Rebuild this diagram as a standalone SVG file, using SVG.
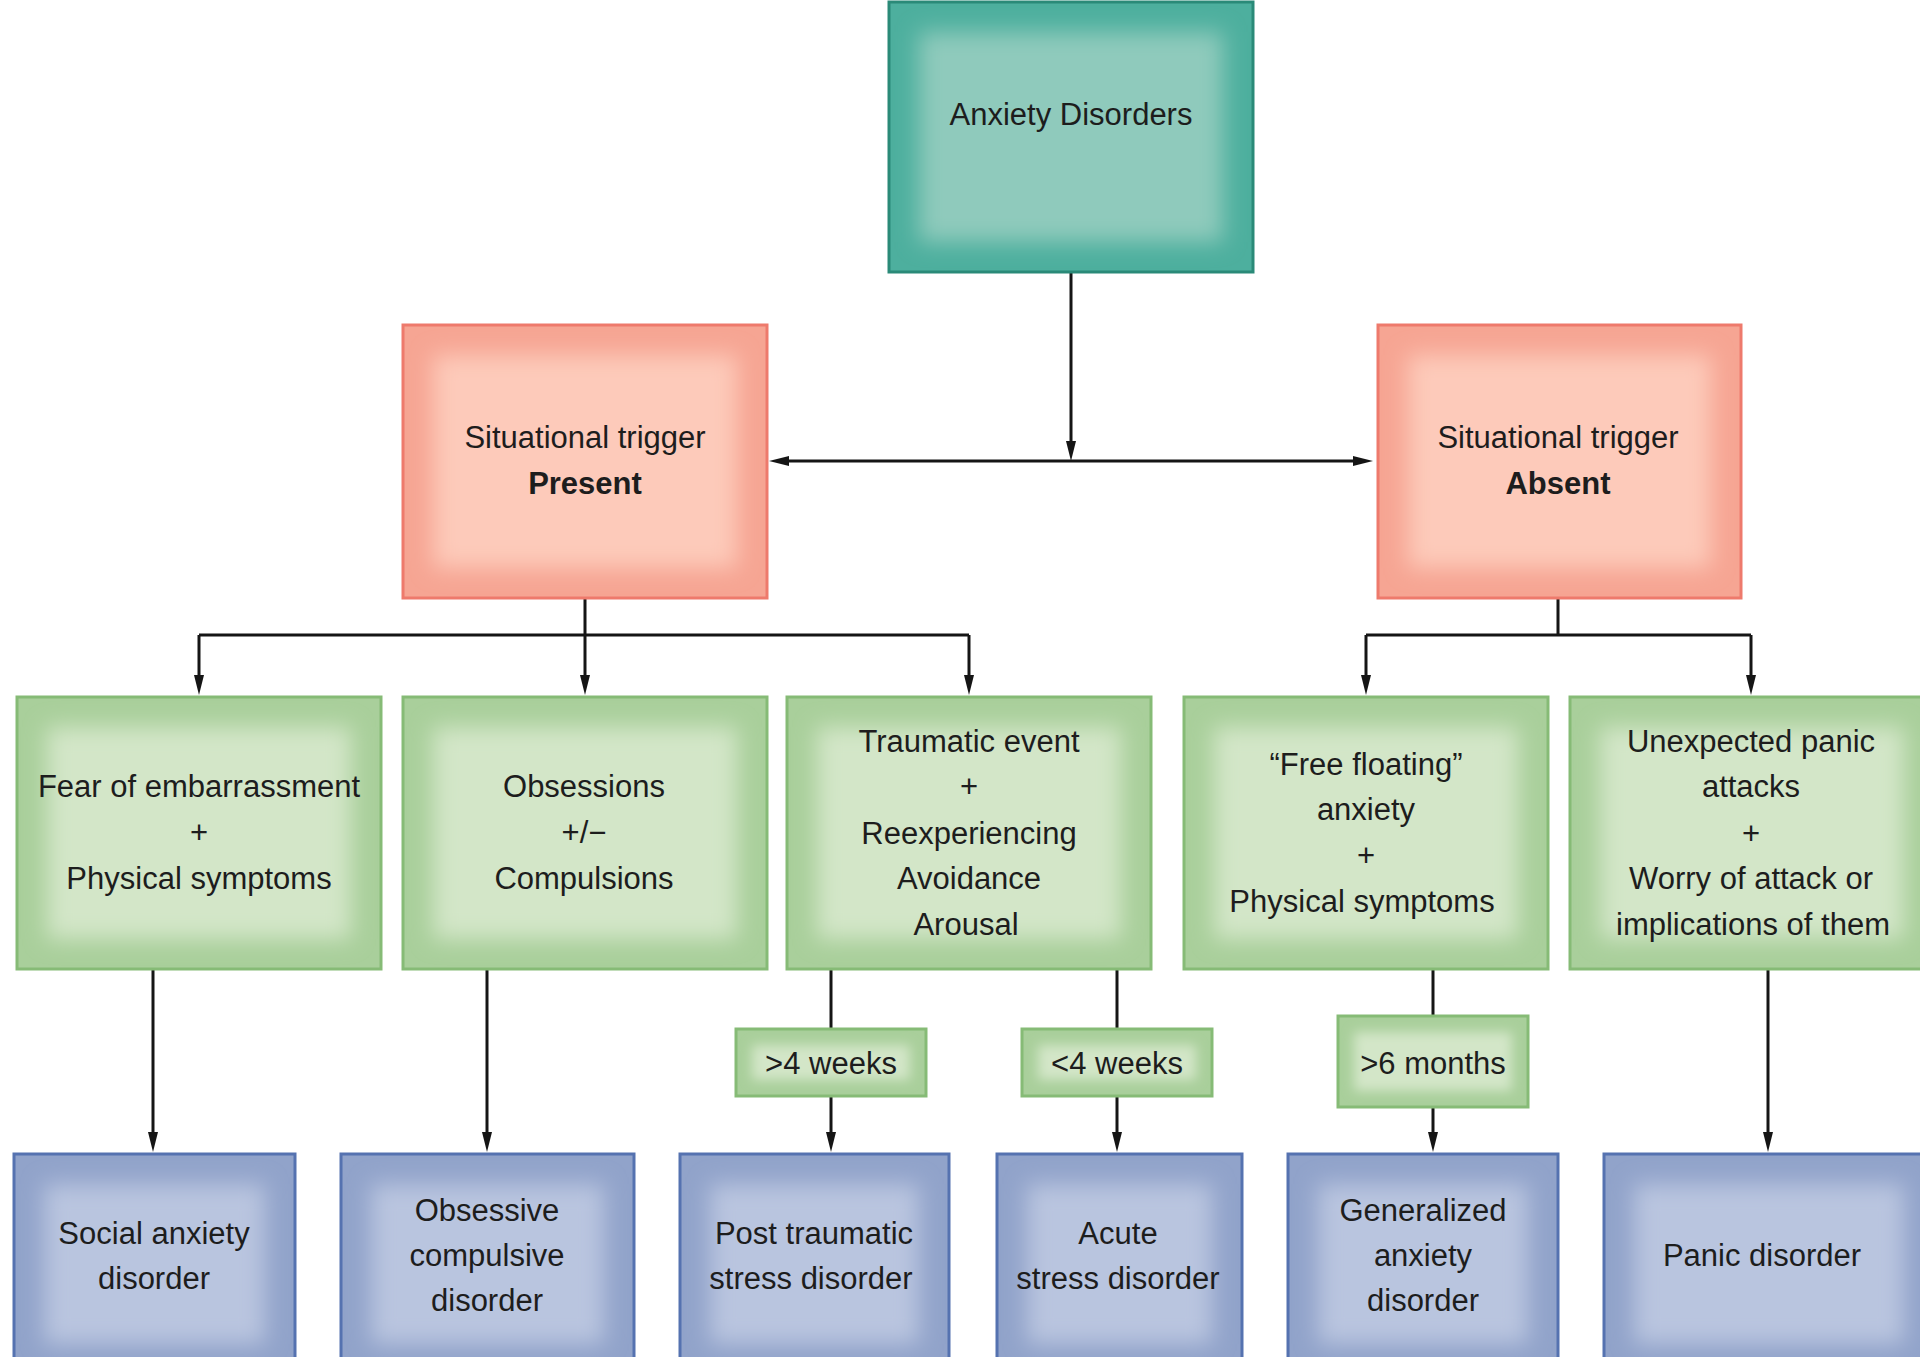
<svg xmlns="http://www.w3.org/2000/svg" width="1920" height="1357" viewBox="0 0 1920 1357">
<style>
text{font-family:"Liberation Sans",Arial,Helvetica,sans-serif;font-size:31px;fill:#1d1d1d;text-anchor:middle}
.b{font-weight:bold}
.conn line,.conn path{stroke:#151515;stroke-width:3;fill:none}
.teal .o{fill:#4daf9e;stroke:#2a8a78;stroke-width:3}
.teal .i{fill:#8fcabc}
.pink .o{fill:#f6a593;stroke:#ee7a6c;stroke-width:3}
.pink .i{fill:#fdcaba}
.green .o{fill:#a9cf9b;stroke:#86bb76;stroke-width:3}
.green .i{fill:#d3e6c8}
.blue .o{fill:#91a3ca;stroke:#5572b0;stroke-width:3}
.blue .i{fill:#b9c5df}
</style>
<defs>
<filter id="soft" x="-40%" y="-40%" width="180%" height="180%"><feGaussianBlur stdDeviation="11"/></filter>
<filter id="softs" x="-60%" y="-60%" width="220%" height="220%"><feGaussianBlur stdDeviation="6"/></filter>
<marker id="ah" viewBox="0 0 20 10" refX="12" refY="5" markerWidth="20" markerHeight="10" markerUnits="userSpaceOnUse" orient="auto-start-reverse"><path d="M0,0 L20,5 L0,10 z" fill="#151515"/></marker>
</defs>
<rect width="1920" height="1357" fill="#ffffff"/>

<g class="conn">
<line x1="1071" y1="273" x2="1071" y2="453" marker-end="url(#ah)"/>
<line x1="777" y1="461" x2="1365" y2="461" marker-start="url(#ah)" marker-end="url(#ah)"/>
<path d="M585,598 V635 M199,635 H969 M1558,598 V635 M1366,635 H1751"/>
<line x1="199" y1="635" x2="199" y2="687" marker-end="url(#ah)"/>
<line x1="585" y1="635" x2="585" y2="687" marker-end="url(#ah)"/>
<line x1="969" y1="635" x2="969" y2="687" marker-end="url(#ah)"/>
<line x1="1366" y1="635" x2="1366" y2="687" marker-end="url(#ah)"/>
<line x1="1751" y1="635" x2="1751" y2="687" marker-end="url(#ah)"/>
<line x1="153" y1="968" x2="153" y2="1144" marker-end="url(#ah)"/>
<line x1="487" y1="968" x2="487" y2="1144" marker-end="url(#ah)"/>
<line x1="831" y1="968" x2="831" y2="1029"/>
<line x1="831" y1="1096" x2="831" y2="1144" marker-end="url(#ah)"/>
<line x1="1117" y1="968" x2="1117" y2="1029"/>
<line x1="1117" y1="1096" x2="1117" y2="1144" marker-end="url(#ah)"/>
<line x1="1433" y1="968" x2="1433" y2="1015"/>
<line x1="1433" y1="1107" x2="1433" y2="1144" marker-end="url(#ah)"/>
<line x1="1768" y1="968" x2="1768" y2="1144" marker-end="url(#ah)"/>
</g>

<g id="anxiety-disorders" class="teal">
<rect class="o" x="889" y="2" width="364" height="270"/>
<rect class="i" x="919" y="32" width="304" height="210" filter="url(#soft)"/>
<text x="1071" y="125">Anxiety Disorders</text>
</g>

<g id="trigger-present" class="pink">
<rect class="o" x="403" y="325" width="364" height="273"/>
<rect class="i" x="433" y="355" width="304" height="213" filter="url(#soft)"/>
<text x="585" y="448">Situational trigger</text>
<text x="585" y="494" class="b">Present</text>
</g>

<g id="trigger-absent" class="pink">
<rect class="o" x="1378" y="325" width="363" height="273"/>
<rect class="i" x="1408" y="355" width="303" height="213" filter="url(#soft)"/>
<text x="1558" y="448">Situational trigger</text>
<text x="1558" y="494" class="b">Absent</text>
</g>

<g id="fear" class="green">
<rect class="o" x="17" y="697" width="364" height="272"/>
<rect class="i" x="47" y="727" width="304" height="212" filter="url(#soft)"/>
<text x="199" y="797">Fear of embarrassment</text>
<text x="199" y="843">+</text>
<text x="199" y="889">Physical symptoms</text>
</g>

<g id="obsessions" class="green">
<rect class="o" x="403" y="697" width="364" height="272"/>
<rect class="i" x="433" y="727" width="304" height="212" filter="url(#soft)"/>
<text x="584" y="797">Obsessions</text>
<text x="584" y="843">+/−</text>
<text x="584" y="889">Compulsions</text>
</g>

<g id="traumatic" class="green">
<rect class="o" x="787" y="697" width="364" height="272"/>
<rect class="i" x="817" y="727" width="304" height="212" filter="url(#soft)"/>
<text x="969" y="752">Traumatic event</text>
<text x="969" y="797">+</text>
<text x="969" y="844">Reexperiencing</text>
<text x="969" y="889">Avoidance</text>
<text x="966" y="935">Arousal</text>
</g>

<g id="free-floating" class="green">
<rect class="o" x="1184" y="697" width="364" height="272"/>
<rect class="i" x="1214" y="727" width="304" height="212" filter="url(#soft)"/>
<text x="1366" y="775">“Free floating”</text>
<text x="1366" y="820">anxiety</text>
<text x="1366" y="866">+</text>
<text x="1362" y="912">Physical symptoms</text>
</g>

<g id="unexpected" class="green">
<rect class="o" x="1570" y="697" width="364" height="272"/>
<rect class="i" x="1600" y="727" width="304" height="212" filter="url(#soft)"/>
<text x="1751" y="752">Unexpected panic</text>
<text x="1751" y="797">attacks</text>
<text x="1751" y="844">+</text>
<text x="1751" y="889">Worry of attack or</text>
<text x="1753" y="935">implications of them</text>
</g>

<g id="gt4weeks" class="green">
<rect class="o" x="736" y="1029" width="190" height="67"/>
<rect class="i" x="752" y="1045" width="158" height="35" filter="url(#softs)"/>
<text x="831" y="1074">&gt;4 weeks</text>
</g>

<g id="lt4weeks" class="green">
<rect class="o" x="1022" y="1029" width="190" height="67"/>
<rect class="i" x="1038" y="1045" width="158" height="35" filter="url(#softs)"/>
<text x="1117" y="1074">&lt;4 weeks</text>
</g>

<g id="gt6months" class="green">
<rect class="o" x="1338" y="1016" width="190" height="91"/>
<rect class="i" x="1354" y="1032" width="158" height="59" filter="url(#softs)"/>
<text x="1433" y="1074">&gt;6 months</text>
</g>

<g id="social" class="blue">
<rect class="o" x="14" y="1154" width="281" height="220"/>
<rect class="i" x="44" y="1184" width="221" height="160" filter="url(#soft)"/>
<text x="154" y="1244">Social anxiety</text>
<text x="154" y="1289">disorder</text>
</g>

<g id="ocd" class="blue">
<rect class="o" x="341" y="1154" width="293" height="220"/>
<rect class="i" x="371" y="1184" width="233" height="160" filter="url(#soft)"/>
<text x="487" y="1221">Obsessive</text>
<text x="487" y="1266">compulsive</text>
<text x="487" y="1311">disorder</text>
</g>

<g id="ptsd" class="blue">
<rect class="o" x="680" y="1154" width="269" height="220"/>
<rect class="i" x="710" y="1184" width="209" height="160" filter="url(#soft)"/>
<text x="814" y="1244">Post traumatic</text>
<text x="811" y="1289">stress disorder</text>
</g>

<g id="acute" class="blue">
<rect class="o" x="997" y="1154" width="245" height="220"/>
<rect class="i" x="1027" y="1184" width="185" height="160" filter="url(#soft)"/>
<text x="1118" y="1244">Acute</text>
<text x="1118" y="1289">stress disorder</text>
</g>

<g id="gad" class="blue">
<rect class="o" x="1288" y="1154" width="270" height="220"/>
<rect class="i" x="1318" y="1184" width="210" height="160" filter="url(#soft)"/>
<text x="1423" y="1221">Generalized</text>
<text x="1423" y="1266">anxiety</text>
<text x="1423" y="1311">disorder</text>
</g>

<g id="panic" class="blue">
<rect class="o" x="1604" y="1154" width="330" height="220"/>
<rect class="i" x="1634" y="1184" width="270" height="160" filter="url(#soft)"/>
<text x="1762" y="1266">Panic disorder</text>
</g>
</svg>
